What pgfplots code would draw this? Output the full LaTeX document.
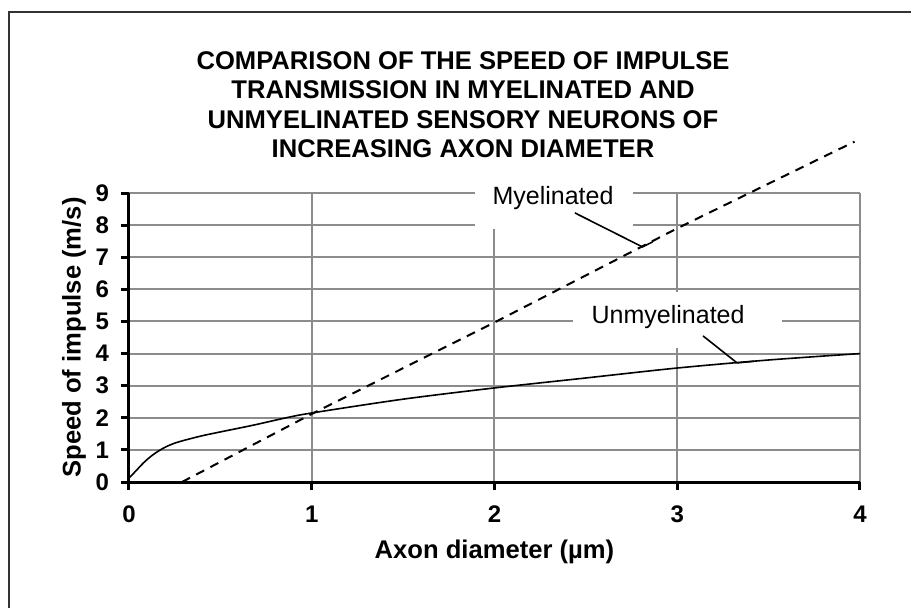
\documentclass[border=0pt]{standalone}
\usepackage{fontspec}
\setmainfont{Liberation Sans}
\usepackage{pgfplots}
\pgfplotsset{compat=1.18}
\definecolor{gridgray}{RGB}{140,140,140}
\pgfplotstableread{
x y
0 0.12
0.04 0.36
0.08 0.6
0.12 0.8
0.16 0.96
0.2 1.09
0.25 1.21
0.31 1.31
0.4 1.44
0.5 1.56
0.68 1.77
0.86 2.0
1 2.15
1.5 2.58
2 2.93
2.5 3.24
3 3.55
3.5 3.8
4 4.0
}\unmyel
\pgfplotstableread{
x y
0.29 0
1 2.12
2 4.97
3 7.9
3.97 10.6
}\myel
\begin{document}
\begin{tikzpicture}[x=1pt,y=1pt]
\begin{axis}[
  at={(0,0)}, anchor=south west,
  scale only axis, width=365.5pt, height=144.5pt,
  xmin=0, xmax=4, ymin=0, ymax=9,
  xtick={0,1,2,3,4}, ytick={0,1,2,3,4,5,6,7,8,9},
  axis x line*=bottom, axis y line*=left,
  axis line style={black, line width=1.5pt, -},
  grid=major, grid style={draw=gridgray, line width=1pt},
  tick align=outside, major tick length=4pt,
  tick style={black, line width=1.5pt},
  ticklabel style={font=\fontsize{12}{12}\selectfont\bfseries},
  xticklabel style={text height=8.6pt, text depth=0pt, yshift=-4pt},
  yticklabel style={xshift=-2.5pt},
  /pgf/number format/assume math mode=true,
  xlabel={Axon diameter (µm)},
  ylabel={Speed of impulse (m/s)},
  label style={font=\fontsize{12.8}{14}\selectfont\bfseries},
  xlabel style={at={(axis description cs:0.5,0)}, anchor=base, yshift=-38pt},
  ylabel style={at={(axis description cs:-0.0752,0.5)}, anchor=center},
  clip=false,
]
\addplot[black, line width=0.8pt, smooth, no markers] table[x=x,y=y] {\unmyel};
\addplot[black, line width=1pt, no markers, dash pattern=on 4.5pt off 3.5pt] table[x=x,y=y] {\myel};
% label boxes
\node[fill=white, draw=none, minimum width=79pt, minimum height=31pt, inner sep=0pt] at (axis cs:2.325,8.85) {};
\node[font=\fontsize{12.5}{14}\selectfont, inner sep=0pt] at (axis cs:2.32,8.85) {Myelinated};
\node[fill=white, draw=none, minimum width=104.5pt, minimum height=28pt, inner sep=0pt] at (axis cs:3.0,5.05) {};
\node[font=\fontsize{12.5}{14}\selectfont, inner sep=0pt] at (axis cs:2.95,5.15) {Unmyelinated};
% leaders
\draw[black, line width=0.8pt] (axis cs:2.44,8.38) -- (axis cs:2.81,7.32) -- (axis cs:2.866,7.48);
\draw[black, line width=0.8pt] (axis cs:3.141,4.55) -- (axis cs:3.327,3.71) -- (axis cs:3.42,3.76);
\end{axis}
\node[anchor=north, align=center, inner sep=0pt, font=\fontsize{12.8}{14.7}\selectfont\bfseries] at (167,215.5)
  {COMPARISON OF THE SPEED OF IMPULSE\\TRANSMISSION IN MYELINATED AND\\UNMYELINATED SENSORY NEURONS OF\\INCREASING AXON DIAMETER};
\draw[line width=1pt, black!80] (-60,-70) -- (-60,235) -- (400,235);
\pgfresetboundingbox
\path (-64.5,-62.5) rectangle (391,241);
\end{tikzpicture}
\end{document}
